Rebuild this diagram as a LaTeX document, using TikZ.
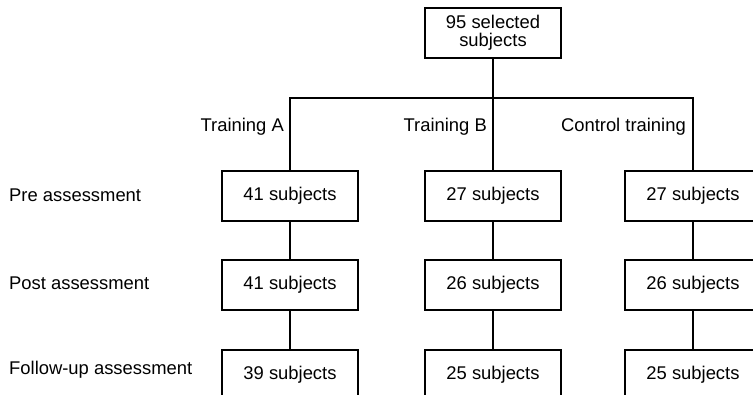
\documentclass[tikz,border=0pt]{standalone}
\usepackage{fontspec}
\setmainfont{Liberation Sans}
\usetikzlibrary{positioning, calc}
\tikzset{
  countbox/.style={rectangle, draw=black, line width=2pt, minimum width=136pt, minimum height=50pt, inner sep=0pt, font=\fontsize{18.4}{21}\selectfont, align=center},
  grouplabel/.style={font=\fontsize{18.4}{21}\selectfont, inner sep=0pt},
  phaselabel/.style={font=\fontsize{18.4}{21}\selectfont, inner sep=0pt, anchor=west},
  link/.style={line width=2pt, black}
}
\begin{document}
\begin{tikzpicture}[x=1pt, y=-1pt]
  \useasboundingbox (0,0) rectangle (753,394);
  \node[countbox] (top) at (493,33) {95 selected\\[-3pt]subjects};
  \coordinate (split) at (493,98);

  \node[countbox] (a1) at (290,196) {41 subjects};
  \node[countbox] (b1) at (493,196) {27 subjects};
  \node[countbox] (c1) at (693,196) {27 subjects};

  \node[countbox, below=37pt of a1] (a2) {41 subjects};
  \node[countbox, below=37pt of b1] (b2) {26 subjects};
  \node[countbox, below=37pt of c1] (c2) {26 subjects};

  \node[countbox, below=38pt of a2] (a3) {39 subjects};
  \node[countbox, below=38pt of b2] (b3) {25 subjects};
  \node[countbox, below=38pt of c2] (c3) {25 subjects};

  \node[grouplabel, anchor=east] (ga) at (284,127) {Training A};
  \node[grouplabel, anchor=east] (gb) at (487,127) {Training B};
  \node[grouplabel, anchor=east] (gc) at (686,127) {Control training};

  \node[phaselabel] (pre) at (9,195) {Pre assessment};
  \node[phaselabel] (post) at (9,283) {Post assessment};
  \node[phaselabel] (fol) at (9,370) {Follow-up assessment};

  \draw[link] (top) -- (split);
  \draw[link] (a1.north) |- (split) -| (c1.north);
  \draw[link] (split) -- (b1);
  \foreach \col in {a,b,c}{
    \draw[link] (\col1) -- (\col2);
    \draw[link] (\col2) -- (\col3);
  }
\end{tikzpicture}
\end{document}
